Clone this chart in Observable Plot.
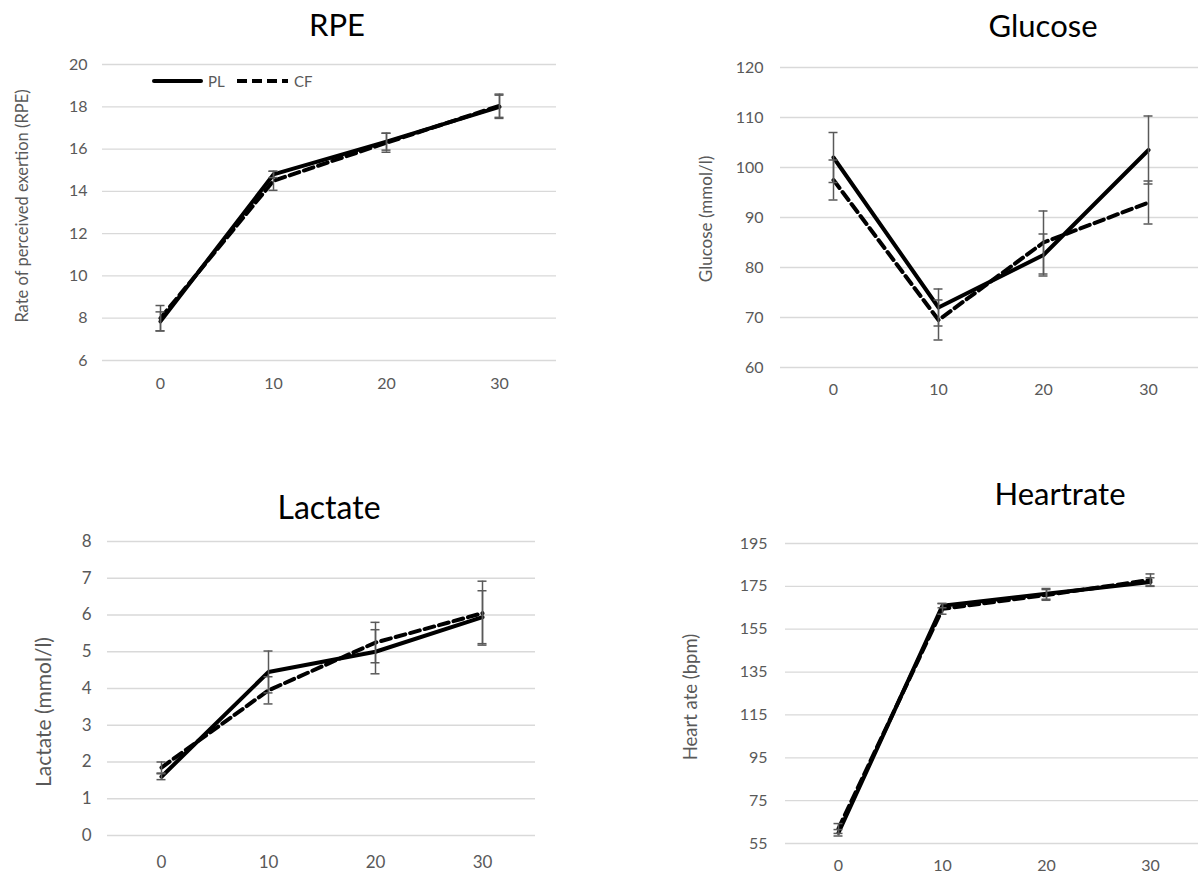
<!DOCTYPE html>
<html><head><meta charset="utf-8">
<script src="https://cdn.jsdelivr.net/npm/d3@7"></script>
<script src="https://cdn.jsdelivr.net/npm/@observablehq/plot@0.6"></script>
<style>
html,body{margin:0;padding:0;background:#fff;overflow:hidden}
#wrap{position:relative;width:1198px;height:874px;overflow:hidden;background:#fff;font-family:Lato,"Open Sans",sans-serif}
.panel{position:absolute}
.title{position:absolute;transform:translate(-50%,-50%);font-size:31px;line-height:1;color:#000;white-space:nowrap}
.ylab{position:absolute;transform:translate(-50%,-50%) rotate(-90deg);color:#595959;white-space:nowrap;line-height:1}
.leg{position:absolute;transform:translateY(-50%);font-size:15px;line-height:1;color:#595959}
</style></head><body><div id="wrap">
<div class="title" style="left:337px;top:24px">RPE</div>
<div class="title" style="left:1043px;top:25px">Glucose</div>
<div class="title" style="left:329px;top:507px;font-size:32px">Lactate</div>
<div class="title" style="left:1060px;top:493px">Heartrate</div>
<div class="ylab" style="left:22px;top:206px;font-size:16.5px">Rate of perceived exertion (RPE)</div>
<div class="ylab" style="left:705px;top:219px;font-size:17px">Glucose (mmol/l)</div>
<div class="ylab" style="left:42px;top:712px;font-size:21px">Lactate (mmol/l)</div>
<div class="ylab" style="left:690px;top:697px;font-size:18.5px">Heart ate (bpm)</div>
<svg style="position:absolute;left:148px;top:77px" width="145" height="8">
  <line x1="6" x2="53" y1="4" y2="4" stroke="#000" stroke-width="4" stroke-linecap="round"/>
  <line x1="89" x2="140" y1="4" y2="4" stroke="#000" stroke-width="4" stroke-dasharray="10,5"/>
</svg>
<div class="leg" style="left:208px;top:81px">PL</div>
<div class="leg" style="left:294px;top:81px">CF</div>
</div>
<script>
// ---- data ----
const times = [0, 10, 20, 30];

const rpePL = [7.85, 14.8, 16.35, 18.0];
const rpePLErr = [0.45, 0.15, 0.4, 0.55];
const rpeCF = [8.0, 14.5, 16.3, 18.05];
const rpeCFErr = [0.6, 0.45, 0.45, 0.55];
const rpeTicks = [6, 8, 10, 12, 14, 16, 18, 20];

const gluPL = [102, 72, 82.5, 103.5];
const gluPLErr = [5, 3.7, 4.2, 6.8];
const gluCF = [97.5, 69.5, 85, 93];
const gluCFErr = [4, 4, 6.3, 4.3];
const gluTicks = [60, 70, 80, 90, 100, 110, 120];

const lacPL = [1.6, 4.45, 5.0, 5.94];
const lacPLErr = [0.08, 0.57, 0.6, 0.72];
const lacCF = [1.85, 3.95, 5.25, 6.05];
const lacCFErr = [0.15, 0.37, 0.55, 0.87];
const lacTicks = [0, 1, 2, 3, 4, 5, 6, 7, 8];

const hrPL = [60, 166, 171.5, 177];
const hrPLErr = [1.5, 1, 2.5, 2];
const hrCF = [62, 164.5, 171, 178];
const hrCFErr = [2.3, 2.5, 2.5, 2.8];
const hrTicks = [55, 75, 95, 115, 135, 155, 175, 195];

// ---- drawing ----
function rowsOf(name, values, errs) {
  return values.map((v, i) => ({t: times[i], v, lo: v - errs[i], hi: v + errs[i], name}));
}

function panel(cfg) {
  const pl = rowsOf("PL", cfg.pl, cfg.plErr);
  const cf = rowsOf("CF", cfg.cf, cfg.cfErr);
  const all = pl.concat(cf);
  const errStyle = {stroke: "#595959", strokeWidth: 1.5};
  const chart = Plot.plot({
    width: cfg.width, height: cfg.height,
    marginLeft: cfg.ml, marginRight: cfg.mr, marginTop: cfg.mt, marginBottom: cfg.mb,
    style: {fontFamily: "Lato, 'Open Sans', sans-serif", fontSize: cfg.fs + "px", color: "#595959", background: "transparent", maxWidth: "none", overflow: "visible"},
    x: {type: "point", domain: times, padding: 0.5},
    y: {domain: [cfg.ticks[0], cfg.ticks[cfg.ticks.length - 1]]},
    marks: [
      Plot.gridY(cfg.ticks, {stroke: "#d9d9d9", strokeOpacity: 1, strokeWidth: 1.3}),
      Plot.axisY(cfg.ticks, {tickSize: 0, tickPadding: cfg.yPad, label: null, fontSize: cfg.fs}),
      Plot.axisX(times, {tickSize: 0, tickPadding: cfg.xPad, label: null, fontSize: cfg.fs}),
      Plot.lineY(pl, {x: "t", y: "v", stroke: "#000", strokeWidth: 4, strokeLinejoin: "round", strokeLinecap: "round"}),
      Plot.lineY(cf, {x: "t", y: "v", stroke: "#000", strokeWidth: 4, strokeLinejoin: "round", strokeDasharray: "10,5"}),
      Plot.ruleX(all, {x: "t", y1: "lo", y2: "hi", ...errStyle}),
      Plot.ruleY(all, {y: "lo", x1: "t", x2: "t", insetLeft: -4.5, insetRight: -4.5, ...errStyle}),
      Plot.ruleY(all, {y: "hi", x1: "t", x2: "t", insetLeft: -4.5, insetRight: -4.5, ...errStyle})
    ]
  });
  const div = document.createElement("div");
  div.className = "panel";
  div.style.left = cfg.left + "px";
  div.style.top = cfg.top + "px";
  div.style.width = cfg.width + "px";
  div.style.height = cfg.height + "px";
  div.appendChild(chart);
  document.getElementById("wrap").appendChild(div);
}

panel({left: 0, top: 0, width: 600, height: 420, ml: 102, mr: 44, mt: 64, mb: 60, fs: 16, yPad: 15, xPad: 17,
  ticks: rpeTicks, pl: rpePL, plErr: rpePLErr, cf: rpeCF, cfErr: rpeCFErr});
panel({left: 640, top: 0, width: 561, height: 420, ml: 140, mr: 0, mt: 67, mb: 53, fs: 16, yPad: 17, xPad: 16,
  ticks: gluTicks, pl: gluPL, plErr: gluPLErr, cf: gluCF, cfErr: gluCFErr});
panel({left: 0, top: 440, width: 600, height: 460, ml: 107, mr: 65, mt: 101, mb: 65, fs: 17, yPad: 16, xPad: 20,
  ticks: lacTicks, pl: lacPL, plErr: lacPLErr, cf: lacCF, cfErr: lacCFErr});
panel({left: 640, top: 440, width: 562, height: 460, ml: 145, mr: 0, mt: 103, mb: 57, fs: 16, yPad: 18, xPad: 16,
  ticks: hrTicks, pl: hrPL, plErr: hrPLErr, cf: hrCF, cfErr: hrCFErr});
</script>
</body></html>
